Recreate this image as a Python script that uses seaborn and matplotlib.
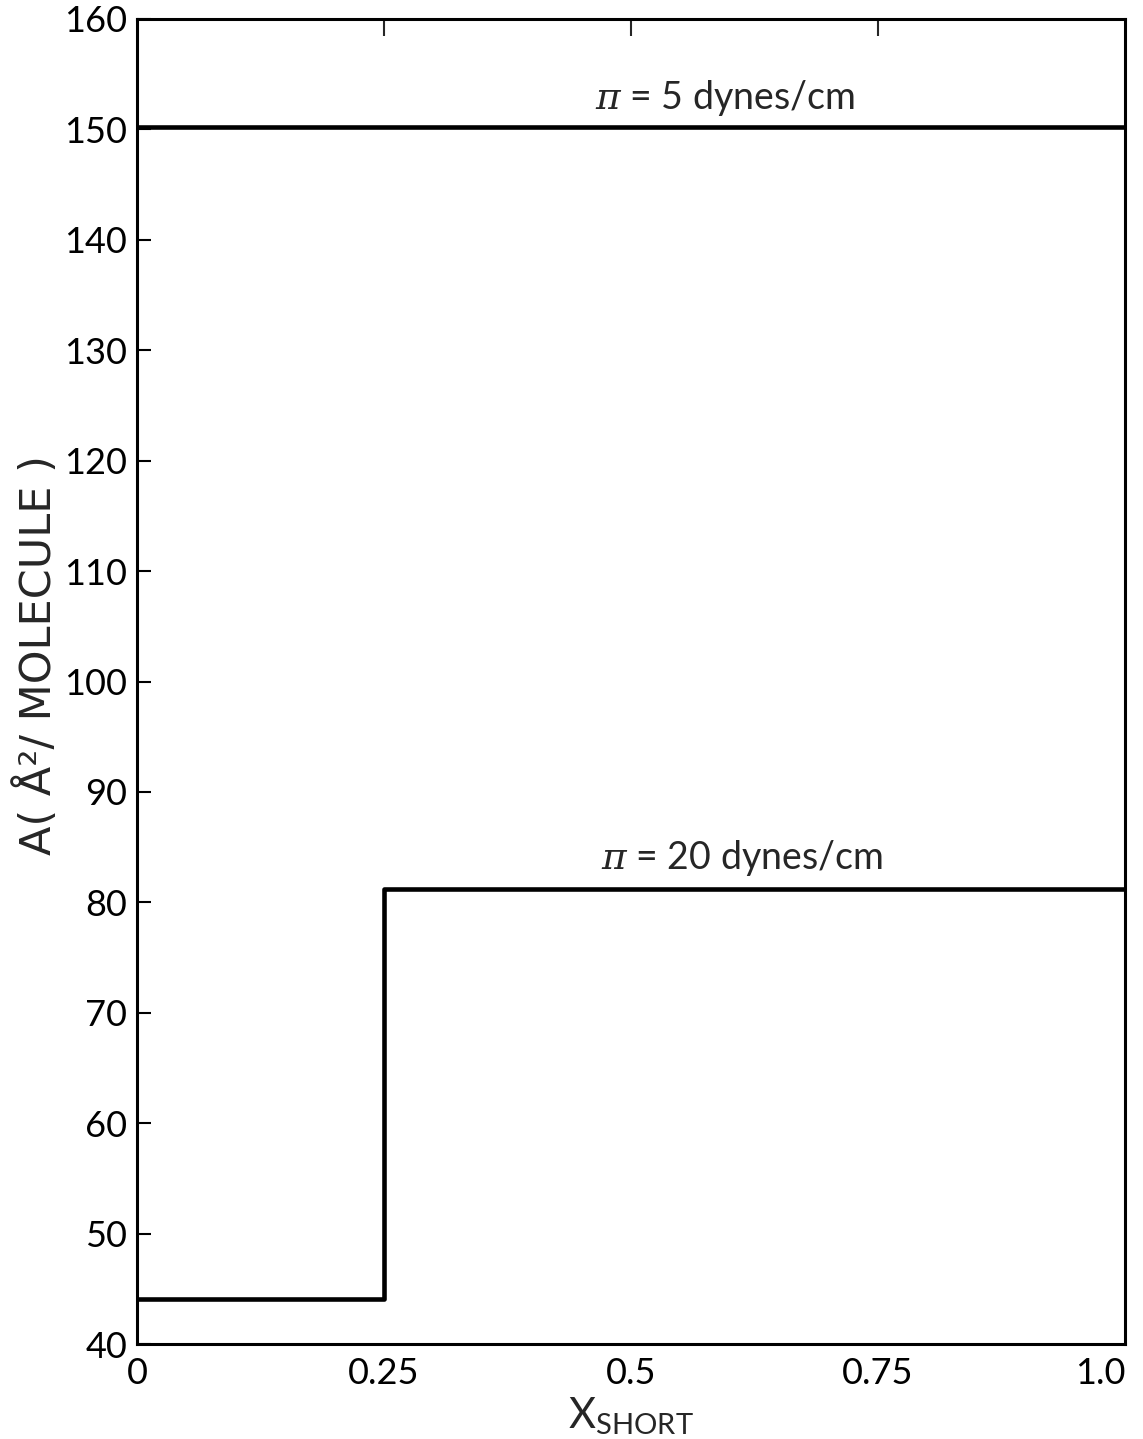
import matplotlib
matplotlib.use("Agg")
import matplotlib.pyplot as plt
from matplotlib.font_manager import FontProperties
import seaborn as sns
import pandas as pd

# Area per molecule versus mole fraction of the short-chain component
x_short = [0.0, 0.25, 1.0]
area_pi5 = [150.2, 150.2, 150.2]
area_pi20 = [44.1, 81.2, 81.2]

y_ticks = [40, 50, 60, 70, 80, 90, 100, 110, 120, 130, 140, 150, 160]
x_ticks = [0.0, 0.25, 0.5, 0.75, 1.0]
x_tick_labels = ["0", "0.25", "0.5", "0.75", "1.0"]

label_pi5 = r"$\pi$ = 5 dynes/cm"
label_pi20 = r"$\pi$ = 20 dynes/cm"

sns.set_theme(style="white")
plt.rcParams["font.family"] = ["Lato", "DejaVu Sans"]
plt.rcParams["mathtext.fontset"] = "custom"
plt.rcParams["mathtext.rm"] = "Lato"
plt.rcParams["mathtext.it"] = "DejaVu Serif:italic"

df5 = pd.DataFrame({"x": x_short, "A": area_pi5})
df20 = pd.DataFrame({"x": x_short, "A": area_pi20})

fig = plt.figure(figsize=(11.43, 14.39), dpi=100)
ax = fig.add_axes([0.1199, 0.066, 0.8644, 0.9208])

sns.lineplot(data=df5, x="x", y="A", ax=ax, color="black", linewidth=3.3,
             drawstyle="steps-post", estimator=None)
sns.lineplot(data=df20, x="x", y="A", ax=ax, color="black", linewidth=3.3,
             drawstyle="steps-post", estimator=None)

ax.set_xlim(0, 1.0)
ax.set_ylim(40, 160)
ax.set_yticks(y_ticks)
ax.set_yticklabels([str(v) for v in y_ticks])
ax.set_xticks(x_ticks)
ax.set_xticklabels(x_tick_labels)

for side in ["left", "right", "top", "bottom"]:
    ax.spines[side].set_visible(True)
    ax.spines[side].set_color("black")
    ax.spines[side].set_linewidth(2.2)

ax.tick_params(axis="both", which="major", direction="in", length=10, width=1.5,
               colors="black", labelsize=26, pad=7)
ax.tick_params(axis="x", top=False, pad=9)
ax.tick_params(axis="y", left=True, right=False)

# keep the last x label inside the figure
last = ax.get_xticklabels()[-1]
last.set_horizontalalignment("right")

# inner ticks along the top edge (unlabelled)
ax_top = ax.secondary_xaxis("top")
ax_top.set_xticks([0.25, 0.5, 0.75])
ax_top.set_xticklabels([])
ax_top.tick_params(direction="in", length=12, width=1.5)
ax_top.spines["top"].set_visible(False)

ax.set_xlabel(r"X$_{\mathrm{SHORT}}$", fontsize=30, labelpad=4)
ylabel_font = FontProperties(family="DejaVu Sans", size=31)
ax.set_ylabel("A( Å²/ MOLECULE )", fontproperties=ylabel_font)
ax.yaxis.set_label_coords(-0.078, 0.52)

ax.text(0.595, 151.0, label_pi5, ha="center", va="bottom", fontsize=27)
ax.text(0.612, 82.2, label_pi20, ha="center", va="bottom", fontsize=27)

fig.savefig("out.png", dpi=100, facecolor="white")
